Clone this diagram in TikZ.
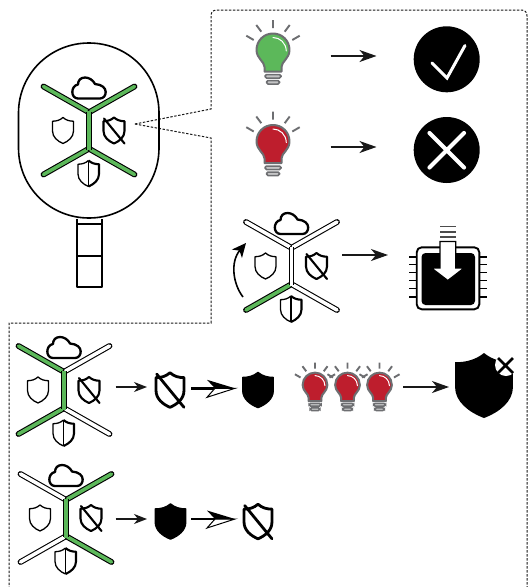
\documentclass[tikz,border=0pt]{standalone}
\usetikzlibrary{arrows.meta}
\definecolor{netgreen}{HTML}{5CB85A}
\definecolor{bulbred}{HTML}{BE1E2D}
\definecolor{bulbgray}{HTML}{6D6E71}
\tikzset{
  thinarrow/.style={line width=1.4pt,black!90,-{Stealth[length=17pt,width=12pt,inset=5pt]}},
  smallarrow/.style={line width=1.4pt,black!90,-{Stealth[length=13pt,width=10pt,inset=4pt]}},
  framedash/.style={line width=1pt,black!90,dash pattern=on 2.4pt off 1.6pt},
}
\newcommand{\shieldshape}{(0,-13) .. controls (-3,-10.3) and (-6.5,-9.3) .. (-10.5,-9.3) -- (-10.5,0.5) .. controls (-10.5,6.5) and (-5.5,10.7) .. (0,13) .. controls (5.5,10.7) and (10.5,6.5) .. (10.5,0.5) -- (10.5,-9.3) .. controls (6.5,-9.3) and (3,-10.3) .. (0,-13) -- cycle}
\newcommand{\cloudicon}[2]{\draw[line width=2.3pt,black,line join=round,shift={(#1,#2)}] (-11,10.5) -- (11,10.5) .. controls (14.5,10.5) and (16.7,7.5) .. (16.7,4) .. controls (16.7,0) and (13,-3.5) .. (6,-4) .. controls (4,-8) and (0,-10.5) .. (-4,-10.5) .. controls (-8.5,-10.5) and (-11,-7.5) .. (-11,-3.5) .. controls (-14.5,-3) and (-16.7,0.5) .. (-16.7,4) .. controls (-16.7,7.5) and (-14.5,10.5) .. (-11,10.5) -- cycle;}
\newcommand{\plainshield}[2]{\draw[line width=1.3pt,black,line join=round,shift={(#1,#2)}] \shieldshape;}
\newcommand{\crossshield}[4]{\begin{scope}[shift={(#1,#2)},scale=#3]
  \draw[line width=#4pt,black,line join=round] \shieldshape;
  \draw[line width=#4pt,black,line cap=round] (-10,-12) -- (10.5,13);
\end{scope}}
\newcommand{\halfshield}[2]{\begin{scope}[shift={(#1,#2)}]
  \draw[line width=1.3pt,black,line join=round] (0,-13) .. controls (-3,-10.3) and (-6.5,-9.3) .. (-10.5,-9.3) -- (-10.5,0.5) .. controls (-10.5,6.5) and (-5.5,10.7) .. (0,13);
  \draw[line width=2.1pt,black,line join=round] (0,-13) .. controls (3,-10.3) and (6.5,-9.3) .. (10.5,-9.3) -- (10.5,0.5) .. controls (10.5,6.5) and (5.5,10.7) .. (0,13);
  \draw[line width=1.2pt,black] (0,-13) -- (0,13);
\end{scope}}
\newcommand{\blackshield}[2]{\draw[black,fill=black,line width=1.2pt,line join=round,shift={(#1,#2)},xscale=1.46,yscale=1.36] \shieldshape;}
\newcommand{\armline}[5]{%
  \draw[line width=5.8pt,black,line cap=round] (#1,#2) -- (#3,#4);
  \draw[line width=3.6pt,#5,line cap=round] (#1,#2) -- (#3,#4);}
% x y TL TR BL BR V
\newcommand{\netwheel}[7]{\begin{scope}[shift={(#1,#2)}]
  \armline{-45.5}{-44}{-1.5}{-19}{#3}
  \armline{45.5}{-44}{1.5}{-19}{#4}
  \armline{-45.5}{44}{-1.5}{19}{#5}
  \armline{45.5}{44}{1.5}{19}{#6}
  \draw[line width=5.8pt,black] (0,-19) -- (0,19);
  \draw[line width=3.6pt,#7] (0,-19.5) -- (0,19.5);
  \cloudicon{0}{-42.5}
  \plainshield{-26}{0}
  \crossshield{25}{0}{1}{2.1}
  \halfshield{-0.5}{43}
\end{scope}}
\newcommand{\bulb}[4]{\begin{scope}[shift={(#1,#2)},scale=#3]
  \draw[line width=1.9pt,bulbgray,line cap=butt]
    (0,-30) -- (0,-22) (-16.7,-25) -- (-11.7,-18.3) (16.7,-25) -- (11.7,-18.3)
    (-26.7,-14.3) -- (-19.3,-10) (26.7,-14.3) -- (19.3,-10);
  \draw[line width=2pt,bulbgray,fill=#4,line join=round]
    (-8.5,21.5) -- (-8.5,17) .. controls (-8.5,11.5) and (-16.5,8.5) .. (-16.5,0) .. controls (-16.5,-9.5) and (-9,-16.5) .. (0,-16.5) .. controls (9,-16.5) and (16.5,-9.5) .. (16.5,0) .. controls (16.5,8.5) and (8.5,11.5) .. (8.5,17) -- (8.5,21.5) -- cycle;
  \draw[line width=1pt,white,line cap=round] (0,-12.5) .. controls (7,-12.5) and (13,-7) .. (13.3,1);
  \draw[line width=1.5pt,bulbgray,fill=bulbgray!40,rounded corners=1.5pt] (-8,24.5) rectangle (8,28);
  \draw[line width=1.5pt,bulbgray,fill=bulbgray!40,rounded corners=1.5pt] (-6.5,30.5) rectangle (6.5,34);
\end{scope}}
\newcommand{\heavyarrow}[2]{\begin{scope}[shift={(#1,#2)}]
  \draw[line width=2.6pt,black] (-44,0) -- (-17,0);
  \draw[line width=1pt,black,fill=white,line join=miter] (0,0) -- (-28,9) -- (-20,0) -- cycle;
  \fill[black] (0,0) -- (-28,-8.5) -- (-20,0) -- cycle;
\end{scope}}
\begin{document}
\begin{tikzpicture}[x=1pt,y=-1pt]
\useasboundingbox (0,0) rectangle (529,587);
\fill[white] (0,0) rectangle (529,587);

% dashed frame
\coordinate (fa) at (135,124);
\coordinate (fb) at (211,109);
\coordinate (fc) at (211,138);
\coordinate (fd) at (211,323);
\coordinate (fe) at (9,323);
\coordinate (ff) at (9,587);
\coordinate (fg) at (527,587);
\draw[framedash] (fa) -- (fb) -- (211,16) .. controls (211,12) and (213,10) .. (217,10) -- (521,10) .. controls (525,10) and (527,12) .. (527,16) -- (fg);
\draw[framedash] (fa) -- (fc) -- (fd) -- (fe) -- (ff);

% key
\draw[line width=1.6pt,black] (18.5,113) .. controls (18.5,74) and (50,43) .. (89,43) .. controls (128,43) and (159,74) .. (159,113) -- (159,148) .. controls (159,187) and (128,218) .. (89,218) .. controls (50,218) and (18.5,187) .. (18.5,148) -- cycle;
\draw[line width=2pt,black,line join=round] (76.5,218.5) -- (76.5,286.5) -- (101.5,286.5) -- (101.5,218.5);
\draw[line width=1.3pt,black] (76.5,224) -- (101.5,224) (76.5,256) -- (101.5,256);
\netwheel{89}{130.5}{netgreen}{netgreen}{netgreen}{netgreen}{netgreen}

% bulbs with outcomes
\bulb{273}{50}{1}{netgreen}
\bulb{273}{141.5}{1}{bulbred}
\coordinate (a1s) at (330.5,56); \coordinate (a1e) at (376.5,56);
\draw[thinarrow] (a1s) -- (a1e);
\coordinate (a2s) at (330.5,147); \coordinate (a2e) at (376.5,147);
\draw[thinarrow] (a2s) -- (a2e);
\fill[black] (446.7,59.3) circle (33);
\draw[white,line width=3pt,line cap=round,line join=miter] (432,63) -- (447,78) -- (465,45.5);
\fill[black] (446.7,150) circle (33);
\draw[white,line width=4.2pt,line cap=round] (429.5,133) -- (464,167.5) (464,133) -- (429.5,167.5);

% third row
\netwheel{291.5}{266}{white}{white}{netgreen}{white}{white}
\coordinate (c1) at (243,297); \coordinate (c2) at (246,243);
\draw[line width=1.6pt,black,-{Stealth[length=14pt,width=13pt,inset=4pt]}] (c1) .. controls (233,284) and (230,262) .. (c2);
\coordinate (a3s) at (342,255); \coordinate (a3e) at (388,255);
\draw[thinarrow] (a3s) -- (a3e);

% chip
\foreach \py in {256.7,264.5,272.5,280.5,288.5,296.7}{
  \draw[line width=1.7pt,black] (409,\py) -- (417,\py) (479,\py) -- (487,\py);
}
\draw[line width=1.9pt,black,fill=white,rounded corners=5pt] (416.7,247.3) rectangle (479.3,309.3);
\fill[black,rounded corners=4pt] (421.5,253) rectangle (475,305);
\draw[line width=1.2pt,black,fill=white,line join=miter] (440,241.5) -- (440,268) -- (431.5,268) -- (447.8,280.5) -- (464,268) -- (455.7,268) -- (455.7,241.5) -- cycle;
\draw[line width=1.9pt,black!70] (440,226.5) -- (455.7,226.5) (440,231.7) -- (455.7,231.7) (440,236.7) -- (455.7,236.7);

% lower left row 1
\netwheel{64}{390}{netgreen}{white}{netgreen}{white}{netgreen}
\coordinate (a4s) at (115.5,387); \coordinate (a4e) at (147,387);
\draw[smallarrow] (a4s) -- (a4e);
\crossshield{170}{390}{1.33}{2.8}
\heavyarrow{235}{388.3}
\blackshield{258}{390}

% three bulbs
\bulb{315}{385}{0.75}{bulbred}
\bulb{347.5}{385}{0.75}{bulbred}
\bulb{379.5}{385}{0.75}{bulbred}
\coordinate (a5s) at (403,387); \coordinate (a5e) at (449,387);
\draw[thinarrow] (a5s) -- (a5e);

% large shield with cross
\begin{scope}[shift={(484,385.5)},xscale=2.76,yscale=2.5]
  \fill[black] \shieldshape;
\end{scope}
\fill[white] (506,365) circle (11);
\draw[black,line width=2.6pt] (498,358) -- (513,373) (513,358) -- (498,373);

% lower left row 2
\netwheel{66}{518}{white}{netgreen}{white}{netgreen}{netgreen}
\coordinate (a6s) at (115.5,519); \coordinate (a6e) at (147,519);
\draw[smallarrow] (a6s) -- (a6e);
\blackshield{170.5}{521.5}
\heavyarrow{235}{519}
\crossshield{258}{521.5}{1.33}{2.8}
\end{tikzpicture}
\end{document}
